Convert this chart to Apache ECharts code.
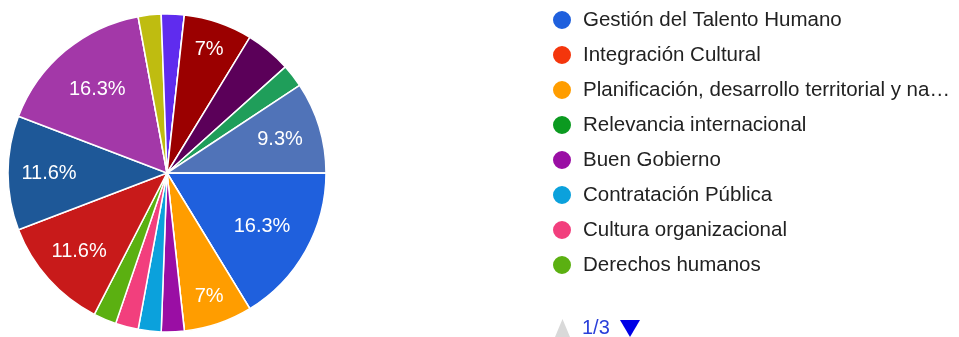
<!DOCTYPE html>
<html>
<head>
<meta charset="utf-8">
<script src="https://cdn.jsdelivr.net/npm/echarts@6/dist/echarts.min.js"></script>
<style>
html,body{margin:0;padding:0;background:#fff;}
#c{width:959px;height:337px;}
</style>
</head>
<body>
<div id="c"></div>
<script>
const categories = [
  'Gestión del Talento Humano',
  'Integración Cultural',
  'Planificación, desarrollo territorial y nacional',
  'Relevancia internacional',
  'Buen Gobierno',
  'Contratación Pública',
  'Cultura organizacional',
  'Derechos humanos',
  'Categoría 9',
  'Categoría 10',
  'Categoría 11',
  'Categoría 12',
  'Categoría 13',
  'Categoría 14',
  'Categoría 15',
  'Categoría 16',
  'Categoría 17',
  'Categoría 18',
  'Categoría 19',
  'Categoría 20'
];
const responses = [7, 0, 3, 0, 1, 1, 1, 1, 5, 5, 7, 0, 1, 1, 0, 3, 2, 1, 4, 0];
const colors = [
  '#1f60dd', '#f4360c', '#ff9d00', '#0b9a20', '#9a0ea4',
  '#0ba1dc', '#f23f7d', '#5bb011', '#c81a1a', '#1e5898',
  '#a338a8', '#22aa99', '#bfbc10', '#5f2cee', '#e67300',
  '#9b0000', '#5b0059', '#1f9e5a', '#5073b8', '#3b3eac'
];
const perPage = 8;
const currentPage = 1;

const data = categories.map((n, i) => ({ name: n, value: responses[i] }));
const total = responses.reduce((a, b) => a + b, 0);
const pageCount = Math.ceil(categories.length / perPage);
const pageNames = categories.slice((currentPage - 1) * perPage, currentPage * perPage);

const C = [167, 173], R = 159;
const FONT = 'Liberation Sans, Arial, sans-serif';

// label rings: larger slices keep labels nearer the centre
const tiers = [
  { lo: 15, hi: 101, inner: 53 },
  { lo: 9, hi: 15, inner: 71 },
  { lo: 5, hi: 9, inner: 96 }
];
const labelSeries = tiers.map(t => ({
  type: 'pie',
  center: C,
  radius: [t.inner, R],
  startAngle: 0,
  clockwise: true,
  silent: true,
  data: data,
  itemStyle: { color: 'rgba(0,0,0,0)', borderWidth: 0 },
  labelLine: { show: false },
  label: {
    show: true,
    position: 'inside',
    color: '#fff',
    fontSize: 20,
    fontFamily: FONT,
    formatter: p => {
      const pc = p.value / total * 100;
      return (pc >= t.lo && pc < t.hi) ? parseFloat(pc.toFixed(1)) + '%' : '';
    }
  },
  emphasis: { disabled: true }
}));

const chart = echarts.init(document.getElementById('c'), null, { renderer: 'canvas' });
chart.setOption({
  animation: false,
  color: colors,
  legend: {
    type: 'plain',
    orient: 'vertical',
    left: 551,
    top: 9,
    padding: 0,
    data: pageNames,
    icon: 'circle',
    itemWidth: 20,
    itemHeight: 20,
    itemGap: 13,
    selectedMode: false,
    textStyle: {
      fontFamily: FONT,
      fontSize: 20.5,
      lineHeight: 20,
      color: '#222',
      padding: [0, 0, 0, 6],
      width: 372,
      overflow: 'truncate',
      ellipsis: '…'
    }
  },
  graphic: [
    {
      type: 'polygon',
      shape: { points: [[555, 337], [570, 337], [562.5, 319]] },
      style: { fill: '#d9d9d9' },
      silent: true
    },
    {
      type: 'text',
      left: 582,
      top: 318,
      style: {
        text: currentPage + '/' + pageCount,
        fill: '#2a3fd9',
        font: '20px ' + FONT
      },
      silent: true
    },
    {
      type: 'polygon',
      shape: { points: [[620, 320], [640, 320], [630, 337]] },
      style: { fill: '#0000e6' },
      silent: true
    }
  ],
  series: [
    {
      type: 'pie',
      center: C,
      radius: [0, R],
      startAngle: 0,
      clockwise: true,
      data: data,
      label: { show: false },
      labelLine: { show: false },
      itemStyle: { borderColor: '#fff', borderWidth: 1.5 },
      emphasis: { disabled: true }
    }
  ].concat(labelSeries)
});
</script>
</body>
</html>
